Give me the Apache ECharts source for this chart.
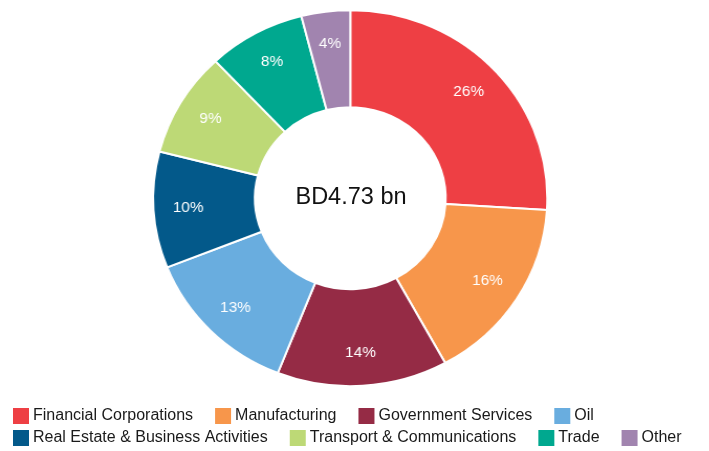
<!DOCTYPE html>
<html>
<head>
<meta charset="utf-8">
<title>Sector breakdown</title>
<script src="https://cdn.jsdelivr.net/npm/echarts@6/dist/echarts.min.js"></script>
<style>
  html, body { margin: 0; padding: 0; background: #ffffff; }
  #wrap { position: relative; width: 709px; height: 451px; overflow: hidden; }
  /* ring layer is widened slightly so the donut is a little wider than tall */
  #ring { position: absolute; left: 0; top: 0; width: 709px; height: 451px;
          transform: scaleX(1.048); transform-origin: 350.3px 0; }
  #overlay { position: absolute; left: 0; top: 0; width: 709px; height: 451px; }
</style>
</head>
<body>
<div id="wrap">
  <div id="ring"></div>
  <div id="overlay"></div>
</div>
<script>
// Sector shares (% of total)
const sectors = [
  'Financial Corporations', 'Manufacturing', 'Government Services', 'Oil',
  'Real Estate & Business Activities', 'Transport & Communications', 'Trade', 'Other'
];
const shares = [26, 16, 14, 13, 10, 9, 8, 4];
const sectorColors = [
  '#EE3F44', '#F7964B', '#952B45', '#69ADDF',
  '#03598A', '#BDD976', '#00A88F', '#A184AF'
];
const totalLabel = 'BD4.73 bn';
const legendRow1 = sectors.slice(0, 4);
const legendRow2 = sectors.slice(4);

const FONT = 'Arial, "Liberation Sans", Helvetica, sans-serif';

const pieData = sectors.map((name, i) => ({
  name: name,
  value: shares[i],
  itemStyle: { color: sectorColors[i] }
}));

const ringChart = echarts.init(document.getElementById('ring'), null, { renderer: 'canvas' });
ringChart.setOption({
  backgroundColor: '#ffffff',
  animation: false,
  legend: { show: false, data: sectors },
  series: [
    {
      type: 'pie',
      name: 'ring',
      center: [350.3, 198.2],
      radius: [91, 188],
      startAngle: 90,
      clockwise: true,
      avoidLabelOverlap: false,
      itemStyle: { borderColor: '#ffffff', borderWidth: 2 },
      label: { show: false },
      labelLine: { show: false },
      emphasis: { scale: false },
      data: pieData
    },
    {
      // label carrier: transparent ring that places the percentages
      type: 'pie',
      name: 'labels',
      center: [350.3, 198.2],
      radius: [116, 188],
      startAngle: 90,
      clockwise: true,
      silent: true,
      avoidLabelOverlap: false,
      itemStyle: { color: 'rgba(0,0,0,0)', borderWidth: 0 },
      label: {
        show: true,
        position: 'inside',
        formatter: '{c}%',
        color: '#ffffff',
        fontFamily: FONT,
        fontSize: 14.7
      },
      labelLine: { show: false },
      emphasis: { disabled: true },
      data: sectors.map((name, i) => ({ name: name, value: shares[i] }))
    }
  ]
});

const overlayChart = echarts.init(document.getElementById('overlay'), null, { renderer: 'canvas' });
const legendBase = {
  left: 13,
  orient: 'horizontal',
  padding: 0,
  icon: 'rect',
  itemWidth: 16,
  itemHeight: 16,
  itemGap: 22,
  textStyle: { fontFamily: FONT, fontSize: 16, color: '#1a1a1a', padding: [2, 0, 0, -1] }
};
overlayChart.setOption({
  backgroundColor: 'transparent',
  animation: false,
  legend: [
    Object.assign({}, legendBase, { top: 408, data: legendRow1 }),
    Object.assign({}, legendBase, { top: 430, data: legendRow2 })
  ],
  graphic: [{
    type: 'text',
    x: 351,
    y: 197.5,
    silent: true,
    style: {
      text: totalLabel,
      fill: '#111111',
      font: '23.5px ' + FONT,
      textAlign: 'center',
      textVerticalAlign: 'middle'
    }
  }],
  series: [{
    // zero-size ring that feeds the legend entries
    type: 'pie',
    name: 'legend',
    center: [350, 198],
    radius: [0, 0],
    silent: true,
    label: { show: false },
    labelLine: { show: false },
    data: pieData
  }]
});

overlayChart.on('legendselectchanged', function (e) {
  ringChart.dispatchAction({ type: 'legendToggleSelect', name: e.name });
});
</script>
</body>
</html>
